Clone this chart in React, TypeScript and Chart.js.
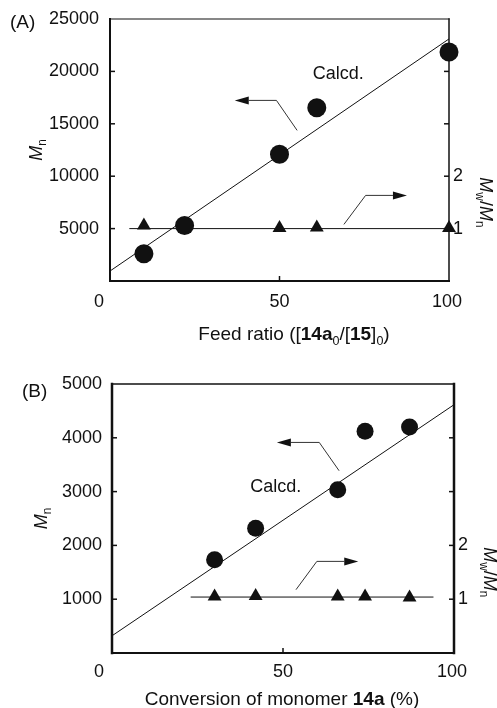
import React, { useEffect, useRef } from "react";
import { Chart, registerables } from "chart.js";

Chart.register(...registerables);

// ---------- Panel A data ----------
const A_FEED = [10, 22, 50, 61, 100];
const A_MN = [2600, 5300, 12100, 16540, 21850];
const A_PDI = [1.06, 1.05, 1.01, 1.02, 1.01];
const A_CALC_X = [0, 100];
const A_CALC_MN = [950, 23100];
const A_PDI_LINE_X = [5.7, 100];
const A_PDI_LINE_Y = [1, 1];
const A_X_TICKS = ["0", "50", "100"];
const A_LEFT_ARROW: [number, number][] = [[55.2, 14370], [49.1, 17233], [36.8, 17233]];
const A_RIGHT_ARROW: [number, number][] = [[69.0, 5400], [75.4, 8168], [87.6, 8168]];
const A_CALCD_POS = [59.8, 19714];

// ---------- Panel B data ----------
const B_CONV = [30, 42, 66, 74, 87];
const B_MN = [1735, 2320, 3035, 4120, 4200];
const B_PDI = [1.05, 1.06, 1.05, 1.05, 1.03];
const B_CALC_X = [0, 100];
const B_CALC_MN = [320, 4615];
const B_PDI_LINE_X = [23, 94];
const B_PDI_LINE_Y = [1.04, 1.04];
const B_X_TICKS = ["0", "50", "100"];
const B_LEFT_ARROW: [number, number][] = [[66.4, 3388], [60.6, 3914], [48.2, 3914]];
const B_RIGHT_ARROW: [number, number][] = [[53.8, 1177], [59.9, 1703], [72.0, 1703]];
const B_CALCD_POS = [40.4, 3078];

const FAMILY = '"Liberation Sans", Arial, Helvetica, sans-serif';
const FS = 18;
const TITLE_FS = 19;
const INK = "#111";

type Seg = { t: string; bold?: boolean; italic?: boolean; sub?: boolean };

function segFont(s: Seg, size: number) {
  const sz = s.sub ? size * 0.66 : size;
  return `${s.italic ? "italic " : ""}${s.bold ? "bold " : ""}${sz}px ${FAMILY}`;
}
function segsWidth(ctx: CanvasRenderingContext2D, segs: Seg[], size: number) {
  let w = 0;
  for (const s of segs) {
    ctx.font = segFont(s, size);
    w += ctx.measureText(s.t).width;
  }
  return w;
}
function drawSegs(ctx: CanvasRenderingContext2D, segs: Seg[], x: number, y: number, size: number) {
  let cx = x;
  ctx.textAlign = "left";
  ctx.textBaseline = "alphabetic";
  for (const s of segs) {
    ctx.font = segFont(s, size);
    ctx.fillText(s.t, cx, y + (s.sub ? size * 0.24 : 0));
    cx += ctx.measureText(s.t).width;
  }
}

function drawArrow(ctx: CanvasRenderingContext2D, pts: [number, number][]) {
  const n = pts.length;
  const [x1, y1] = pts[n - 2];
  const [x2, y2] = pts[n - 1];
  const ang = Math.atan2(y2 - y1, x2 - x1);
  const L = 14, W = 4;
  const bx = x2 - L * Math.cos(ang), by = y2 - L * Math.sin(ang);
  ctx.save();
  ctx.strokeStyle = "#333";
  ctx.lineWidth = 1;
  ctx.beginPath();
  ctx.moveTo(pts[0][0], pts[0][1]);
  for (let i = 1; i < n - 1; i++) ctx.lineTo(pts[i][0], pts[i][1]);
  ctx.lineTo(bx, by);
  ctx.stroke();
  ctx.fillStyle = INK;
  ctx.beginPath();
  ctx.moveTo(x2, y2);
  ctx.lineTo(bx - W * Math.sin(ang), by + W * Math.cos(ang));
  ctx.lineTo(bx + W * Math.sin(ang), by - W * Math.cos(ang));
  ctx.closePath();
  ctx.fill();
  ctx.restore();
}

interface Panel {
  height: number;
  area: { left: number; right: number; top: number; bottom: number };
  yMax: number;
  yStep: number;
  x: number[];
  mn: number[];
  pdi: number[];
  calcX: number[];
  calcMn: number[];
  pdiLineX: number[];
  pdiLineY: number[];
  xTicks: string[];
  xTickShift: number[];
  xLabelDy: number;
  leftArrow: [number, number][];
  rightArrow: [number, number][];
  calcdPos: number[];
  circleR: number;
  label: string;
  labelX: number;
  labelBase: number;
  leftPad: number;
  yTitleBase: number;
  y1TitleBase: number;
  xTitle: Seg[];
  xTitleCenter: number;
  xTitleBase: number;
  frame: { left: number; right: number; top: number; bottom: number };
}

const PANEL_A: Panel = {
  height: 350,
  area: { left: 110, right: 449, top: 19, bottom: 281 },
  yMax: 25000,
  yStep: 5000,
  x: A_FEED,
  mn: A_MN,
  pdi: A_PDI,
  calcX: A_CALC_X,
  calcMn: A_CALC_MN,
  pdiLineX: A_PDI_LINE_X,
  pdiLineY: A_PDI_LINE_Y,
  xTicks: A_X_TICKS,
  xTickShift: [-11, 0, -2],
  xLabelDy: 21,
  leftArrow: A_LEFT_ARROW,
  rightArrow: A_RIGHT_ARROW,
  calcdPos: A_CALCD_POS,
  circleR: 9.5,
  label: "(A)",
  labelX: 10,
  labelBase: 28,
  leftPad: 11,
  yTitleBase: 42,
  y1TitleBase: 480,
  xTitle: [
    { t: "Feed ratio ([" },
    { t: "14a", bold: true },
    { t: "0", sub: true },
    { t: "/[" },
    { t: "15", bold: true },
    { t: "]" },
    { t: "0", sub: true },
    { t: ")" },
  ],
  xTitleCenter: 294,
  xTitleBase: 340,
  frame: { left: 2, right: 1.5, top: 1.2, bottom: 2 },
};

const PANEL_B: Panel = {
  height: 358,
  area: { left: 112, right: 454, top: 34, bottom: 303 },
  yMax: 5000,
  yStep: 1000,
  x: B_CONV,
  mn: B_MN,
  pdi: B_PDI,
  calcX: B_CALC_X,
  calcMn: B_CALC_MN,
  pdiLineX: B_PDI_LINE_X,
  pdiLineY: B_PDI_LINE_Y,
  xTicks: B_X_TICKS,
  xTickShift: [-13, 0, -2],
  xLabelDy: 19,
  leftArrow: B_LEFT_ARROW,
  rightArrow: B_RIGHT_ARROW,
  calcdPos: B_CALCD_POS,
  circleR: 8.5,
  label: "(B)",
  labelX: 22,
  labelBase: 47,
  leftPad: 10,
  yTitleBase: 47,
  y1TitleBase: 484,
  xTitle: [{ t: "Conversion of monomer " }, { t: "14a", bold: true }, { t: " (%)" }],
  xTitleCenter: 282,
  xTitleBase: 355,
  frame: { left: 2.5, right: 2.5, top: 1.5, bottom: 2 },
};

function makeConfig(p: Panel): any {
  const W = 497;
  const overlay = {
    id: "overlay",
    beforeDatasetsDraw(chart: any) {
      const ctx: CanvasRenderingContext2D = chart.ctx;
      const a = chart.chartArea;
      const xs = chart.scales.x, ys = chart.scales.y, y1 = chart.scales.y1;
      ctx.save();
      ctx.strokeStyle = INK;
      const f = p.frame;
      ctx.lineCap = "square";
      ctx.lineWidth = f.top;
      ctx.beginPath(); ctx.moveTo(a.left, a.top); ctx.lineTo(a.right, a.top); ctx.stroke();
      ctx.lineWidth = f.bottom;
      ctx.beginPath(); ctx.moveTo(a.left, a.bottom); ctx.lineTo(a.right, a.bottom); ctx.stroke();
      ctx.lineWidth = f.left;
      ctx.beginPath(); ctx.moveTo(a.left, a.top); ctx.lineTo(a.left, a.bottom); ctx.stroke();
      ctx.lineWidth = f.right;
      ctx.beginPath(); ctx.moveTo(a.right, a.top); ctx.lineTo(a.right, a.bottom); ctx.stroke();
      ctx.lineWidth = 1.5;
      ctx.lineCap = "butt";
      const TL = 5;
      for (const t of ys.ticks) {
        if (t.value <= ys.min || t.value >= ys.max) continue;
        const py = ys.getPixelForValue(t.value);
        ctx.beginPath(); ctx.moveTo(a.left, py); ctx.lineTo(a.left + TL, py); ctx.stroke();
      }
      for (const t of y1.ticks) {
        if (t.value <= y1.min || t.value >= y1.max) continue;
        const py = y1.getPixelForValue(t.value);
        ctx.beginPath(); ctx.moveTo(a.right, py); ctx.lineTo(a.right - TL, py); ctx.stroke();
      }
      xs.ticks.forEach((t: any) => {
        if (t.value <= xs.min || t.value >= xs.max) return;
        const px = xs.getPixelForValue(t.value);
        ctx.beginPath(); ctx.moveTo(px, a.bottom); ctx.lineTo(px, a.bottom - TL); ctx.stroke();
      });
      ctx.restore();
    },
    afterDatasetsDraw(chart: any) {
      const ctx: CanvasRenderingContext2D = chart.ctx;
      const a = chart.chartArea;
      const xs = chart.scales.x, ys = chart.scales.y, y1 = chart.scales.y1;
      const P = (pt: [number, number]): [number, number] => [xs.getPixelForValue(pt[0]), ys.getPixelForValue(pt[1])];
      ctx.save();
      ctx.fillStyle = INK;
      ctx.font = `${FS}px ${FAMILY}`;
      ctx.textAlign = "center";
      ctx.textBaseline = "middle";
      xs.ticks.forEach((t: any, i: number) => {
        const px = xs.getPixelForValue(t.value) + (p.xTickShift[i] || 0);
        ctx.fillText(p.xTicks[i] ?? String(t.value), px, a.bottom + p.xLabelDy);
      });
      drawArrow(ctx, p.leftArrow.map(P));
      drawArrow(ctx, p.rightArrow.map(P));
      ctx.fillStyle = INK;
      ctx.font = `${FS}px ${FAMILY}`;
      ctx.textAlign = "left";
      ctx.textBaseline = "middle";
      const cp = P([p.calcdPos[0], p.calcdPos[1]]);
      ctx.fillText("Calcd.", cp[0], cp[1]);
      ctx.font = `19px ${FAMILY}`;
      ctx.textBaseline = "alphabetic";
      ctx.fillText(p.label, p.labelX, p.labelBase);
      const yt: Seg[] = [{ t: "M", italic: true }, { t: "n", sub: true }];
      const ytw = segsWidth(ctx, yt, FS);
      ctx.save();
      ctx.translate(p.yTitleBase, (a.top + a.bottom) / 2);
      ctx.rotate(-Math.PI / 2);
      drawSegs(ctx, yt, -ytw / 2, 0, FS);
      ctx.restore();
      const rt: Seg[] = [
        { t: "M", italic: true },
        { t: "w", sub: true },
        { t: "/" },
        { t: "M", italic: true },
        { t: "n", sub: true },
      ];
      const rtw = segsWidth(ctx, rt, FS);
      ctx.save();
      ctx.translate(p.y1TitleBase, y1.getPixelForValue(1.5));
      ctx.rotate(Math.PI / 2);
      drawSegs(ctx, rt, -rtw / 2, 0, FS);
      ctx.restore();
      const xtw = segsWidth(ctx, p.xTitle, TITLE_FS);
      drawSegs(ctx, p.xTitle, p.xTitleCenter - xtw / 2, p.xTitleBase, TITLE_FS);
      ctx.restore();
    },
  };

  const tickFont = { family: FAMILY, size: FS };
  return {
    type: "scatter",
    data: {
      datasets: [
        {
          label: "Mn",
          data: p.x.map((v, i) => ({ x: v, y: p.mn[i] })),
          yAxisID: "y",
          pointStyle: "circle",
          pointRadius: p.circleR,
          pointBackgroundColor: INK,
          pointBorderColor: INK,
          pointBorderWidth: 0,
          showLine: false,
          clip: false,
        },
        {
          label: "Mw/Mn",
          data: p.x.map((v, i) => ({ x: v, y: p.pdi[i] })),
          yAxisID: "y1",
          pointStyle: "triangle",
          pointRadius: 8,
          pointBackgroundColor: INK,
          pointBorderColor: INK,
          pointBorderWidth: 0,
          showLine: false,
          clip: false,
        },
        {
          type: "line",
          label: "Calcd.",
          data: p.calcX.map((v, i) => ({ x: v, y: p.calcMn[i] })),
          yAxisID: "y",
          borderColor: INK,
          borderWidth: 1,
          pointRadius: 0,
          fill: false,
        },
        {
          type: "line",
          label: "Mw/Mn line",
          data: p.pdiLineX.map((v, i) => ({ x: v, y: p.pdiLineY[i] })),
          yAxisID: "y1",
          borderColor: INK,
          borderWidth: 1,
          pointRadius: 0,
          fill: false,
        },
      ],
    },
    options: {
      responsive: false,
      animation: false,
      events: [],
      layout: { padding: { top: p.area.top, left: 0, right: 0, bottom: 0 } },
      plugins: { legend: { display: false }, tooltip: { enabled: false } },
      scales: {
        x: {
          type: "linear",
          position: "bottom",
          min: 0,
          max: 100,
          grid: { display: false, drawTicks: false },
          border: { display: false },
          ticks: { stepSize: 50, display: false, autoSkip: false },
          afterFit(s: any) {
            s.height = p.height - p.area.bottom;
            s.paddingLeft = 0; s.paddingRight = 0; s.paddingTop = 0; s.paddingBottom = 0;
          },
        },
        y: {
          type: "linear",
          position: "left",
          min: 0,
          max: p.yMax,
          grid: { display: false, drawTicks: false },
          border: { display: false },
          ticks: {
            stepSize: p.yStep,
            autoSkip: false,
            color: INK,
            font: tickFont,
            padding: p.leftPad,
            callback: (v: number) => (v === 0 ? "" : String(v)),
          },
          afterFit(s: any) {
            s.width = p.area.left;
            s.paddingLeft = 0; s.paddingRight = 0; s.paddingTop = 0; s.paddingBottom = 0;
          },
        },
        y1: {
          type: "linear",
          position: "right",
          min: 0,
          max: 5,
          grid: { display: false, drawTicks: false },
          border: { display: false },
          ticks: {
            stepSize: 1,
            autoSkip: false,
            color: INK,
            font: tickFont,
            padding: 4,
            callback: (v: number) => (v === 1 || v === 2 ? String(v) : ""),
          },
          afterFit(s: any) {
            s.width = W - p.area.right;
            s.paddingLeft = 0; s.paddingRight = 0; s.paddingTop = 0; s.paddingBottom = 0;
          },
        },
      },
    },
    plugins: [overlay],
  };
}

function PanelChart({ panel, top }: { panel: Panel; top: number }) {
  const ref = useRef<HTMLCanvasElement | null>(null);
  useEffect(() => {
    if (!ref.current) return;
    const chart = new Chart(ref.current, makeConfig(panel));
    return () => chart.destroy();
  }, [panel]);
  return (
    <canvas
      ref={ref}
      width={497}
      height={panel.height}
      style={{ position: "absolute", left: 0, top, width: 497, height: panel.height, display: "block" }}
    />
  );
}

export default function App() {
  return (
    <div style={{ position: "absolute", left: 0, top: 0, width: 497, height: 708, background: "#fff", overflow: "hidden" }}>
      <PanelChart panel={PANEL_A} top={0} />
      <PanelChart panel={PANEL_B} top={350} />
    </div>
  );
}
